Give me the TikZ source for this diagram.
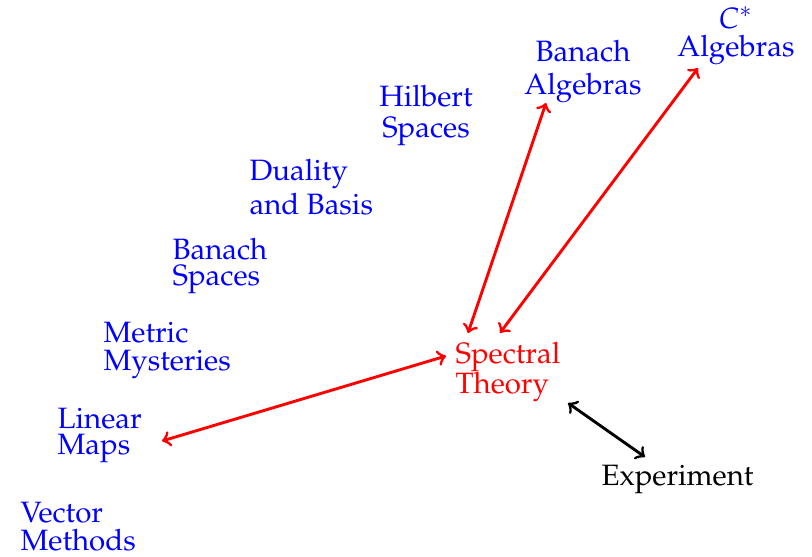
\documentclass[tikz,border=0pt]{standalone}
\usepackage[T1]{fontenc}
\usepackage{mathpazo}
\begin{document}
\begin{tikzpicture}[x=0.3472pt,y=-0.3472pt,
  topic/.style={text=blue,inner sep=0pt,align=left,anchor=base west},
  ctopic/.style={text=blue,inner sep=0pt,align=center,anchor=base},
  link/.style={<->,line width=1pt,red},
  blink/.style={<->,line width=1pt,black}]
\useasboundingbox (0,0) rectangle (812,556);
\node[topic,font={\fontsize{10.22}{9.7}\selectfont}] (vm) at (20,550) {Vector\\Methods};
\node[topic,font={\fontsize{10.22}{9.0}\selectfont}] (lm) at (57,454) {Linear\\Maps};
\node[topic,font={\fontsize{10.22}{9.4}\selectfont}] (mm) at (103,370) {Metric\\Mysteries};
\node[topic,font={\fontsize{10.22}{9.0}\selectfont}] (bs) at (172,285) {Banach\\Spaces};
\node[topic,font={\fontsize{10.22}{11.5}\selectfont}] (db) at (249,214) {Duality\\and Basis};
\node[ctopic,font={\fontsize{10.22}{10.8}\selectfont}] (hs) at (426,138) {Hilbert\\Spaces};
\node[ctopic,font={\fontsize{10.22}{11.8}\selectfont}] (ba) at (583,95) {Banach\\Algebras};
\node[ctopic,font={\fontsize{10.22}{10}\selectfont}] (ca) at (736,57) {$C^*$\\Algebras};
\node[topic,text=red,font={\fontsize{10.22}{10.4}\selectfont}] (st) at (455,393) {Spectral\\Theory};
\node[inner sep=0pt,anchor=base west,font={\fontsize{10.22}{12}\selectfont}] (ex) at (601,485) {Experiment};
\coordinate (lmA) at (162,441);
\coordinate (stA) at (446,356);
\coordinate (stB) at (468,333);
\coordinate (baA) at (546,103);
\coordinate (stC) at (500,333);
\coordinate (caA) at (698,68);
\coordinate (stD) at (568,403);
\coordinate (exA) at (645,457);
\draw[link] (lmA) -- (stA);
\draw[link] (stB) -- (baA);
\draw[link] (stC) -- (caA);
\draw[blink] (stD) -- (exA);
\end{tikzpicture}
\end{document}
